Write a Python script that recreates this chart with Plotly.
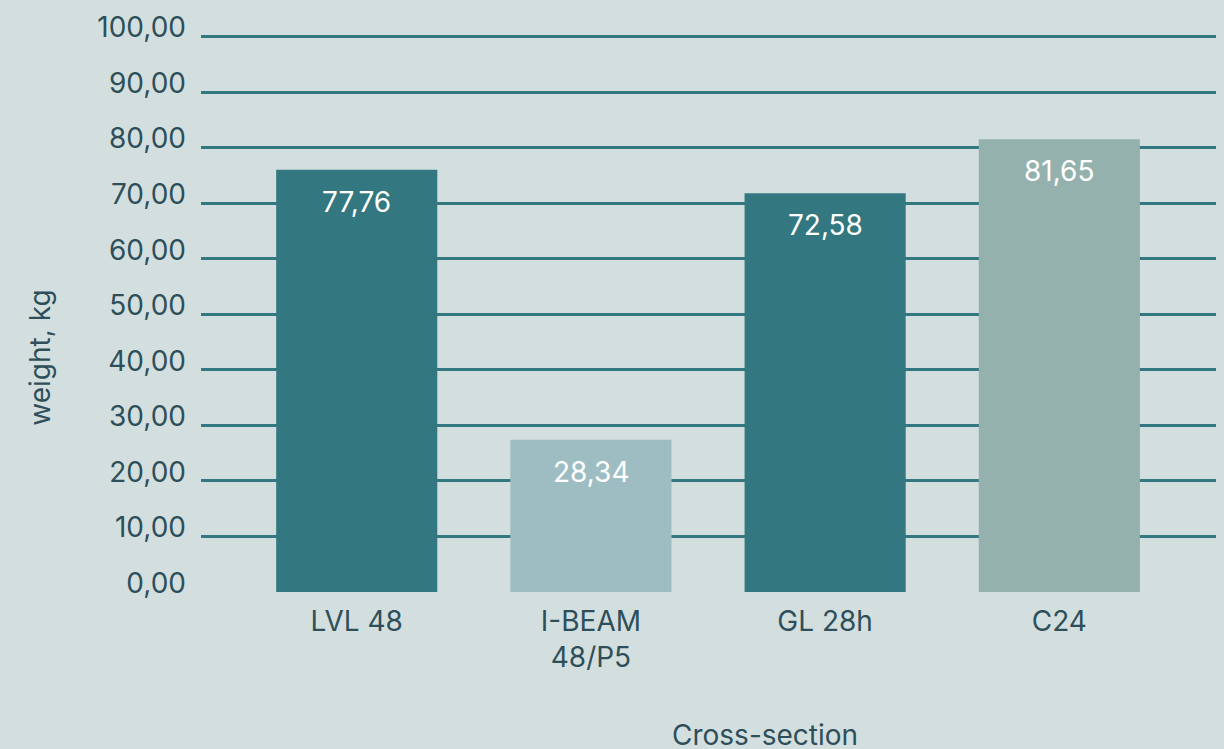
import plotly.graph_objects as go

categories = ["LVL 48", "I-BEAM<br>48/P5", "GL 28h", "C24"]
weights = [76.0, 27.4, 71.8, 81.5]
value_labels = ["77,76", "28,34", "72,58", "81,65"]
bar_colors = ["#337780", "#9dbdc2", "#337780", "#95b1ad"]
y_ticks = [0, 10, 20, 30, 40, 50, 60, 70, 80, 90, 100]
y_tick_text = ["0,00", "10,00", "20,00", "30,00", "40,00", "50,00", "60,00",
               "70,00", "80,00", "90,00", "100,00"]

FONT = "Inter"
TXT = "#2e4f5a"
BG = "#d3dfdf"
GRID = "#337780"

Y_MAX = 101
TOP = 592 - 555 * Y_MAX / 100  # pixel top of plot area

fig = go.Figure()
fig.add_trace(go.Bar(
    x=list(range(len(categories))), y=weights,
    marker=dict(color=bar_colors, line=dict(width=0)),
    width=0.688,
    hoverinfo="skip",
))

for i, (w, t) in enumerate(zip(weights, value_labels)):
    fig.add_annotation(x=i, y=w, text=t, showarrow=False, yanchor="middle",
                       yshift=-32, font=dict(family=FONT, size=28, color="white"))

ph = 592 - TOP
fig.add_annotation(xref="paper", yref="paper", x=(764 - 201) / 1014, y=(592 - 735) / ph,
                   text="Cross-section", showarrow=False, yanchor="middle",
                   xanchor="center", font=dict(family=FONT, size=28, color=TXT))
fig.add_annotation(xref="paper", yref="paper", x=(40 - 201) / 1014, y=(592 - 358) / ph,
                   text="weight, kg", showarrow=False, textangle=-90, yanchor="middle",
                   xanchor="center", font=dict(family=FONT, size=28, color=TXT))

fig.update_layout(
    width=1224, height=749,
    margin=dict(l=201, r=8, t=TOP, b=157),
    paper_bgcolor=BG, plot_bgcolor=BG,
    showlegend=False,
    xaxis=dict(range=[-0.665, 3.669], tickvals=list(range(len(categories))),
               ticktext=categories, showgrid=False, zeroline=False,
               showline=False, ticks="",
               tickfont=dict(family=FONT, size=28, color=TXT), ticklabelstandoff=10),
    yaxis=dict(range=[0, Y_MAX], tickvals=y_ticks, ticktext=y_tick_text,
               showgrid=True, gridcolor=GRID, gridwidth=3, zeroline=False,
               showline=False, ticks="", layer="below traces",
               tickfont=dict(family=FONT, size=28, color=TXT), ticklabelstandoff=14,
               ticklabelshift=-9),
)

fig.write_html("out.html")
